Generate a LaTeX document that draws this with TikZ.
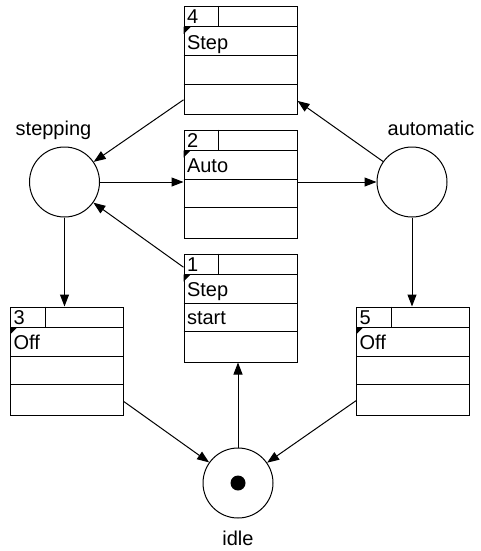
\documentclass[tikz,border=0pt]{standalone}
\usepackage{fontspec}
\setmainfont{Liberation Sans}
\usepackage{tikz}
\usetikzlibrary{arrows.meta}

\begin{document}
\begin{tikzpicture}[
  x=1pt, y=-1pt, line width=1pt,
  font=\fontsize{20}{24}\selectfont,
  trans/.style={draw, rectangle, minimum width=113pt, minimum height=108pt, inner sep=0pt},
  place/.style={draw, circle, minimum size=70pt, inner sep=0pt},
  token/.style={fill, circle, minimum size=15pt, inner sep=0pt},
  txt/.style={anchor=base west, inner sep=0pt},
  lbl/.style={anchor=base, inner sep=0pt},
  arrow/.style={-{Triangle[length=12pt,width=9pt]}}
]
\useasboundingbox (0,0) rectangle (481,551);

% transitions: number cell, label row and two spare rows
\foreach \n/\cx/\cy/\num/\lab/\extra in {
    t4/240.5/60.5/4/Step/{}, t2/240.5/184/2/Auto/{}, t1/240.5/308/1/Step/start,
    t3/67/361/3/Off/{}, t5/413/361/5/Off/{}} {
  \node[trans] (\n) at (\cx,\cy) {};
  \draw ([yshift=-21pt]\n.north west) -- ([yshift=-21pt]\n.north east);
  \draw ([yshift=-50pt]\n.north west) -- ([yshift=-50pt]\n.north east);
  \draw ([yshift=-78pt]\n.north west) -- ([yshift=-78pt]\n.north east);
  \draw ([xshift=35pt]\n.north west) -- ([xshift=35pt,yshift=-21pt]\n.north west);
  \fill ([yshift=-21pt]\n.north west) -- ++(7pt,0pt) -- ++(-7pt,-7pt) -- cycle;
  \node[txt] (\n-num) at ([xshift=3pt,yshift=-18pt]\n.north west) {\num};
  \node[txt] (\n-lab) at ([xshift=3pt,yshift=-43pt]\n.north west) {\lab};
  \node[txt] (\n-ext) at ([xshift=3pt,yshift=-71pt]\n.north west) {\extra};
}

% places
\node[place] (stepping) at (64.5,182) {};
\node[place] (automatic) at (412,182) {};
\node[place] (idle) at (238,483) {};
\node[token] (idle-tok) at (idle) {};

\node[lbl] (stepping-lab) at (53.5,135) {stepping};
\node[lbl] (automatic-lab) at (431,135) {automatic};
\node[lbl] (idle-lab) at (238,545) {idle};

% arcs
\draw[arrow] (t4) -- (stepping);
\draw[arrow] (stepping) -- (stepping -| t2.west);
\draw[arrow] (t2.east |- automatic) -- (automatic);
\draw[arrow] (automatic) -- (t4);
\draw[arrow] (t1) -- (stepping);
\draw[arrow] (stepping) -- (stepping |- t3.north);
\draw[arrow] (automatic) -- (automatic |- t5.north);
\draw[arrow] (t3) -- (idle);
\draw[arrow] (t5) -- (idle);
\draw[arrow] (idle) -- (idle |- t1.south);
\end{tikzpicture}
\end{document}
